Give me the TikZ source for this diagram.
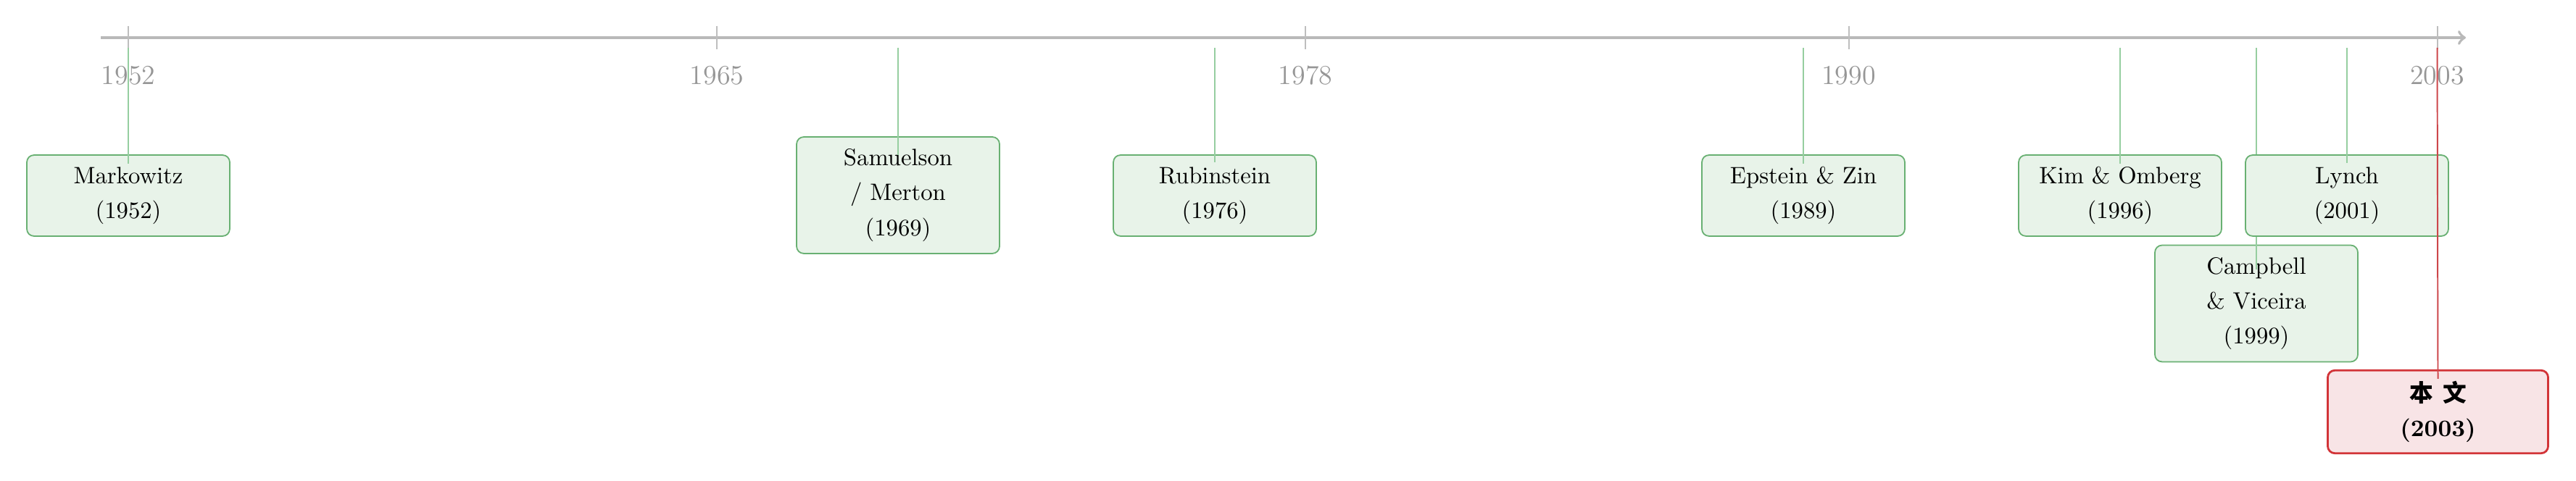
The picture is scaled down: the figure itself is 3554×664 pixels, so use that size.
\documentclass[tikz,border=0pt]{standalone}
\usepackage{fontspec}
\newfontfamily\cjkfont{Noto Sans CJK SC}
\definecolor{axisgray}{RGB}{185,185,185}
\definecolor{tickgray}{RGB}{190,190,190}
\definecolor{labgray}{RGB}{150,150,150}
\definecolor{boxgreen}{RGB}{104,176,114}
\definecolor{boxfill}{RGB}{232,243,233}
\definecolor{linegreen}{RGB}{150,206,160}
\definecolor{boxred}{RGB}{210,52,56}
\definecolor{redfill}{RGB}{248,228,230}
\definecolor{linered}{RGB}{205,70,75}
\tikzset{
  evbox/.style={draw=boxgreen, fill=boxfill, line width=0.55pt, rounded corners=3pt,
    inner sep=0pt, minimum width=85.6pt, minimum height=34.2pt, align=center,
    font=\fontsize{10}{14.8}\selectfont},
  evtall/.style={evbox, minimum height=49.2pt},
  mybox/.style={draw=boxred, fill=redfill, line width=0.85pt, rounded corners=3pt,
    inner sep=0pt, minimum width=93pt, minimum height=35pt, align=center,
    font=\fontsize{10}{14.8}\selectfont\bfseries},
  evline/.style={draw=linegreen, line width=0.6pt},
  myline/.style={draw=linered, line width=0.6pt},
  tickmark/.style={draw=tickgray, line width=0.6pt},
  yearlab/.style={text=labgray, font=\fontsize{11.6}{13}\selectfont, inner sep=0pt},
}
\begin{document}
\begin{tikzpicture}[x=0.3058pt, y=-0.3058pt]
\useasboundingbox (0,0) rectangle (3554,664);
% axis
\coordinate (axstart) at (139,52);
\coordinate (axend) at (3402,52);
\draw[axisgray, line width=1.2pt, ->] (axstart) -- (axend);
% ticks and labels
\foreach \yr/\xx in {1952/177, 1965/989, 1978/1801, 1990/2550.5, 2003/3362.5}{
  \coordinate (t\yr a) at (\xx,36);
  \coordinate (t\yr b) at (\xx,68);
  \draw[tickmark] (t\yr a) -- (t\yr b);
  \node[yearlab] (lab\yr) at (\xx,104) {\yr};
}
% events: box then line
\node[evbox] (markowitz) at (177,270) {Markowitz\\(1952)};
\coordinate (s1952) at (177,66);
\draw[evline] (s1952) -- ([yshift=-4pt]markowitz.north);

\node[evtall] (samuelson) at (1239,269.5) {Samuelson\\/ Merton\\(1969)};
\coordinate (s1969) at (1239,66);
\draw[evline] (s1969) -- ([yshift=-8pt]samuelson.north);

\node[evbox] (rubinstein) at (1676,270) {Rubinstein\\(1976)};
\coordinate (s1976) at (1676,66);
\draw[evline] (s1976) -- ([yshift=-3.4pt]rubinstein.north);

\node[evbox] (epstein) at (2488,270) {Epstein \& Zin\\(1989)};
\coordinate (s1989) at (2488,66);
\draw[evline] (s1989) -- ([yshift=-4pt]epstein.north);

\node[evbox] (kim) at (2925,270) {Kim \& Omberg\\(1996)};
\coordinate (s1996) at (2925,66);
\draw[evline] (s1996) -- ([yshift=-4pt]kim.north);

\node[evtall] (campbell) at (3113,419) {Campbell\\\& Viceira\\(1999)};
\coordinate (s1999) at (3113,66);
\draw[evline] (s1999) -- ([yshift=-10.4pt]campbell.north);

\node[evbox] (lynch) at (3238,270) {Lynch\\(2001)};
\coordinate (s2001) at (3238,66);
\draw[evline] (s2001) -- ([yshift=-3.7pt]lynch.north);

\node[mybox] (thispaper) at (3363.5,568.5) {{\cjkfont 本\hspace{0.4em}文}\\(2003)};
\coordinate (s2003) at (3362.5,66);
\draw[myline] (s2003) -- ([yshift=-4pt]thispaper.north);
\end{tikzpicture}
\end{document}
